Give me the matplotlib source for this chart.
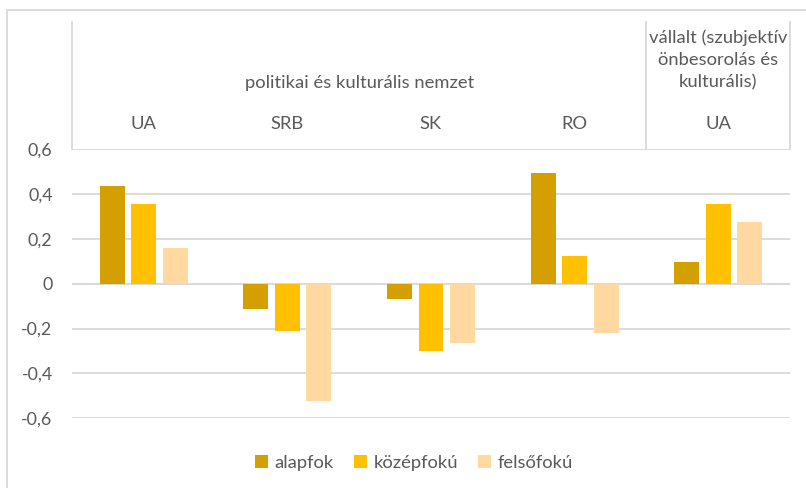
import matplotlib
matplotlib.use("Agg")
import matplotlib.pyplot as plt
import numpy as np
from matplotlib.transforms import blended_transform_factory
from matplotlib.patches import Patch
from matplotlib.lines import Line2D

plt.rcParams['font.family'] = ['Lato', 'DejaVu Sans']

categories = ["UA", "SRB", "SK", "RO", "UA"]
group_labels = ["politikai és kulturális nemzet", "vállalt (szubjektív\nönbesorolás és\nkulturális)"]
series_names = ["alapfok", "középfokú", "felsőfokú"]
alapfok = [0.434, -0.111, -0.067, 0.493, 0.098]
kozepfoku = [0.354, -0.209, -0.299, 0.124, 0.357]
felsofoku = [0.159, -0.521, -0.264, -0.221, 0.273]
yticks = [-0.6, -0.4, -0.2, 0, 0.2, 0.4, 0.6]
ytick_labels = ["-0,6", "-0,4", "-0,2", "0", "0,2", "0,4", "0,6"]

colors = ["#D4A000", "#FFC000", "#FFD9A0"]
text_color = "#595959"
grid_color = "#D9D9D9"
fs = 13.2

W, H = 806, 488
fig = plt.figure(figsize=(W / 100, H / 100), dpi=100)

def fx(px):
    return px / W

def fy(py):
    return 1 - py / H

left, right, top, bottom = 72, 790, 149, 418.3
ax = fig.add_axes([fx(left), fy(bottom), fx(right - left), fy(top) - fy(bottom)])

x = np.arange(len(categories))
offset = 0.22
width = 0.174
for i, (vals, c) in enumerate(zip([alapfok, kozepfoku, felsofoku], colors)):
    ax.bar(x + (i - 1) * offset, vals, width, color=c, zorder=3)

ax.set_xlim(-0.5, len(categories) - 0.5)
ax.set_ylim(-0.6, 0.6)
ax.set_yticks(yticks)
ax.set_yticklabels(ytick_labels)
ax.tick_params(axis='y', length=0, pad=14, labelsize=12.8, labelcolor=text_color)
ax.set_xticks([])
ax.grid(axis='y', color=grid_color, linewidth=1.3, zorder=0)
for s in ax.spines.values():
    s.set_visible(False)
ax.axhline(0, color=grid_color, linewidth=1.3, zorder=2)

# header table
trans = blended_transform_factory(ax.transData, fig.transFigure)
hdr_top = fy(22)
hdr_bot = fy(149)
for xv in [-0.5, 3.5, 4.5]:
    fig.add_artist(Line2D([xv, xv], [hdr_bot, hdr_top], transform=trans,
                          color=grid_color, linewidth=1.3))
for xi, cat in zip(x, categories):
    fig.text(xi, fy(124), cat, transform=trans, ha='center', va='center',
             fontsize=fs, color=text_color)
fig.text(1.5, fy(83), group_labels[0], transform=trans, ha='center', va='center',
         fontsize=fs, color=text_color)
fig.text(4.0, fy(60), group_labels[1], transform=trans, ha='center', va='center',
         fontsize=fs, color=text_color, linespacing=1.45)

# outer border
fig.add_artist(Line2D([fx(7), fx(7), 1.0], [0.0, fy(10), fy(10)],
                      transform=fig.transFigure, color=grid_color, linewidth=1.3))

handles = [Patch(facecolor=c, edgecolor='none') for c in colors]
fig.legend(handles, series_names, loc='center', bbox_to_anchor=(fx(414), fy(463)),
           ncol=3, frameon=False, fontsize=fs, labelcolor=text_color,
           handlelength=0.7, handleheight=0.7, handletextpad=0.35, columnspacing=1.1)

fig.savefig("out.png", dpi=100, facecolor='white')
